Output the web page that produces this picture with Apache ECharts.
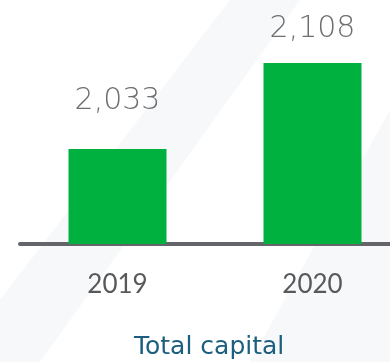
<!DOCTYPE html>
<html>
<head>
<meta charset="utf-8">
<script src="https://cdn.jsdelivr.net/npm/echarts@6/dist/echarts.min.js"></script>
<style>
  html, body { margin: 0; padding: 0; background: #ffffff; }
  #chart { width: 390px; height: 362px; }
</style>
</head>
<body>
<div id="chart"></div>
<script>
const years = ['2019', '2020'];
const totalCapital = [2033, 2108];
const labelGaps = [33, 19];
const chartTitle = 'Total capital';

const chart = echarts.init(document.getElementById('chart'));

chart.setOption({
  animation: false,
  backgroundColor: '#ffffff',
  title: {
    text: chartTitle,
    left: 129,
    top: 330,
    textStyle: { fontFamily: 'DejaVu Sans', fontSize: 25, fontWeight: 'normal', color: '#1b5e7e' }
  },
  graphic: [
    {
      type: 'polygon', z: -10, silent: true,
      shape: { points: [[0, 300], [230, 0], [300, 0], [40, 362], [0, 362]] },
      style: { fill: '#f7f8f9' }
    },
    {
      type: 'polygon', z: -10, silent: true,
      shape: { points: [[250, 362], [390, 110], [390, 362]] },
      style: { fill: '#f7f8f9' }
    }
  ],
  grid: { left: 20, top: 0, width: 390, height: 244, outerBoundsMode: 'none', containLabel: false },
  xAxis: {
    type: 'category',
    data: years,
    axisLine: { lineStyle: { color: '#646569', width: 4 } },
    axisTick: { show: false },
    axisLabel: { margin: 28, fontFamily: 'Lato', fontSize: 26, color: '#58595b' }
  },
  yAxis: {
    type: 'value',
    min: 1950,
    max: 2163,
    show: false,
    splitLine: { show: false }
  },
  series: [{
    type: 'bar',
    barWidth: 98,
    itemStyle: { color: '#00b140' },
    data: totalCapital.map((v, i) => ({
      value: v,
      label: { distance: labelGaps[i] }
    })),
    label: {
      show: true,
      position: 'top',
      fontFamily: 'DejaVu Sans',
      fontWeight: 200,
      fontSize: 30,
      color: '#6d6e71',
      formatter: p => p.value.toLocaleString('en-US')
    }
  }]
});
</script>
</body>
</html>
